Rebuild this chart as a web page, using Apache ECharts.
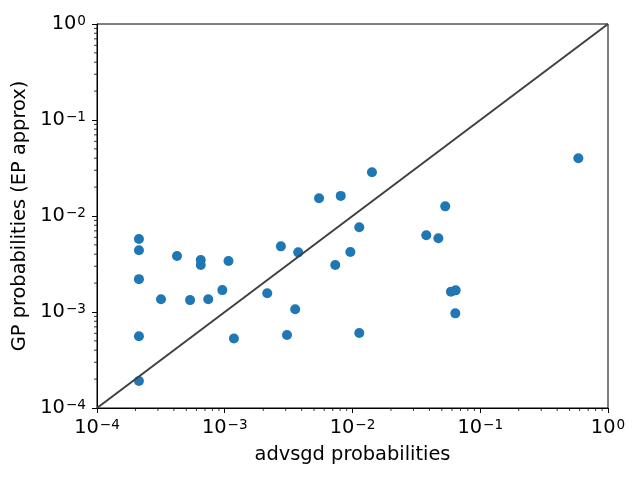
<!DOCTYPE html>
<html>
<head>
<meta charset="utf-8">
<script src="https://cdn.jsdelivr.net/npm/echarts@6/dist/echarts.min.js"></script>
<style>
  html, body { margin: 0; padding: 0; background: #fff; }
  #chart { width: 640px; height: 480px; }
</style>
</head>
<body>
<div id="chart"></div>
<script>
// advsgd probabilities (x) vs GP probabilities, EP approx (y)
const advsgdProb = [
  2.13e-4, 2.13e-4, 2.13e-4, 2.13e-4, 2.13e-4,
  3.17e-4, 4.23e-4, 5.35e-4, 6.49e-4, 6.49e-4, 7.43e-4, 9.57e-4, 1.07e-3, 1.18e-3,
  2.15e-3, 2.75e-3, 3.07e-3, 3.56e-3, 3.76e-3,
  5.47e-3, 8.09e-3, 7.33e-3, 9.62e-3, 1.13e-2, 1.13e-2, 1.42e-2,
  5.32e-2, 3.78e-2, 4.70e-2, 5.90e-2, 6.42e-2, 6.38e-2,
  0.586
];
const gpProb = [
  1.91e-4, 5.6e-4, 2.2e-3, 4.4e-3, 5.75e-3,
  1.36e-3, 3.83e-3, 1.33e-3, 3.48e-3, 3.09e-3, 1.36e-3, 1.69e-3, 3.4e-3, 5.3e-4,
  1.57e-3, 4.83e-3, 5.75e-4, 1.07e-3, 4.18e-3,
  1.53e-2, 1.62e-2, 3.09e-3, 4.22e-3, 7.62e-3, 6.04e-4, 2.85e-2,
  1.26e-2, 6.29e-3, 5.86e-3, 1.63e-3, 1.68e-3, 9.68e-4,
  3.99e-2
];
const diagonal = [[1e-4, 1e-4], [1, 1]];
const axisMin = 1e-4;
const axisMax = 1;

// minor ticks at 2..9 x 10^e
const minorTicks = [];
for (let e = -4; e < 0; e++) {
  for (let k = 2; k <= 9; k++) minorTicks.push(k * Math.pow(10, e));
}

const font = "DejaVu Sans";

function powLabel(v) {
  const e = Math.round(Math.log10(v));
  const s = e < 0 ? "\u2212" + (-e) : String(e);
  return "{b|10}{s|" + s + "}";
}

const labelRich = {
  b: { fontFamily: font, fontSize: 19.4, color: "#000", lineHeight: 20, verticalAlign: "middle" },
  s: { fontFamily: font, fontSize: 13.6, color: "#000", lineHeight: 11, verticalAlign: "top", padding: [0, 0, 0, 1] }
};

function mainAxis(isX) {
  return {
    type: "log",
    logBase: 10,
    min: axisMin,
    max: axisMax,
    splitNumber: 4,
    position: isX ? "bottom" : "left",
    name: isX ? "advsgd probabilities" : "GP probabilities (EP approx)",
    nameLocation: "middle",
    nameGap: isX ? 37 : 61,
    nameTextStyle: { fontFamily: font, fontSize: 19.4, color: "#000" },
    axisLine: { show: true, lineStyle: { color: "#000", width: 1 } },
    axisTick: { show: true, inside: false, length: 5, lineStyle: { color: "#000", width: 1 } },
    axisLabel: { formatter: powLabel, rich: labelRich, margin: isX ? 10 : 11 },
    splitLine: { show: false }
  };
}

// short minor tick marks drawn through the axes' own scale
function minorTickSeries(isX) {
  return {
    type: "custom",
    silent: true,
    clip: false,
    z: 1,
    data: minorTicks.map(v => isX ? [v, axisMin] : [axisMin, v]),
    renderItem: function (params, api) {
      const p = api.coord([api.value(0), api.value(1)]);
      return {
        type: "line",
        shape: isX
          ? { x1: p[0], y1: p[1], x2: p[0], y2: p[1] + 3 }
          : { x1: p[0], y1: p[1], x2: p[0] - 3, y2: p[1] },
        style: { stroke: "#000", lineWidth: 0.8 }
      };
    }
  };
}

const chart = echarts.init(document.getElementById("chart"), null, { renderer: "canvas" });
chart.setOption({
  animation: false,
  backgroundColor: "#fff",
  grid: {
    left: 97, right: 32, top: 24, bottom: 72,
    show: true, borderColor: "#000", borderWidth: 1, backgroundColor: "transparent"
  },
  xAxis: mainAxis(true),
  yAxis: mainAxis(false),
  series: [
    {
      type: "scatter",
      data: advsgdProb.map((x, i) => [x, gpProb[i]]),
      symbol: "circle",
      symbolSize: 10,
      itemStyle: { color: "#1f77b4", opacity: 1 },
      z: 2
    },
    {
      type: "line",
      data: diagonal,
      showSymbol: false,
      symbol: "none",
      lineStyle: { color: "#404040", width: 2 },
      z: 3
    },
    minorTickSeries(true),
    minorTickSeries(false)
  ]
});
</script>
</body>
</html>
